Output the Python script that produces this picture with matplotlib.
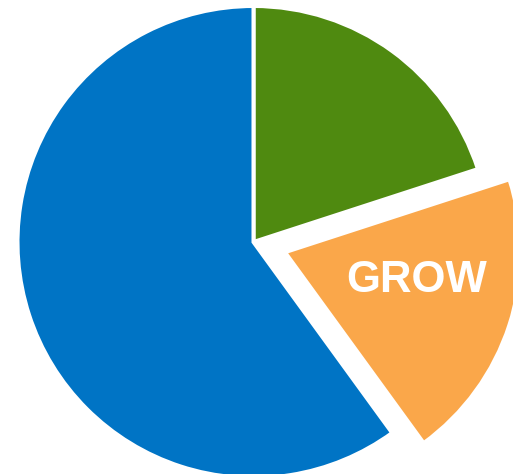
import matplotlib.pyplot as plt

labels = ['', 'GROW', '']
shares = [20, 20, 60]
colors = ['#4F8A10', '#FAA74A', '#0074C5']
explode = [0, 0.14, 0]

fig = plt.figure(figsize=(5.13, 4.74), dpi=100)
ax = fig.add_axes([0, 0, 1, 1])

ax.pie(shares, colors=colors, explode=explode, startangle=90, counterclock=False,
       radius=1.0, wedgeprops={'edgecolor': 'white', 'linewidth': 2.9})

# orange slice label
ax.text(0.69, -0.165, labels[1], color='white', fontsize=31.5, fontweight='bold',
        family='Liberation Sans', ha='center', va='center')

# pie centre sits left of middle so the exploded slice runs off the right edge
cx, cy, r = 253.5, 232.0, 236.0
ax.set_xlim(-cx / r, (513 - cx) / r)
ax.set_ylim(-cy / r, (474 - cy) / r)
ax.set_aspect('auto')
ax.axis('off')

fig.savefig('out.png', dpi=100)
